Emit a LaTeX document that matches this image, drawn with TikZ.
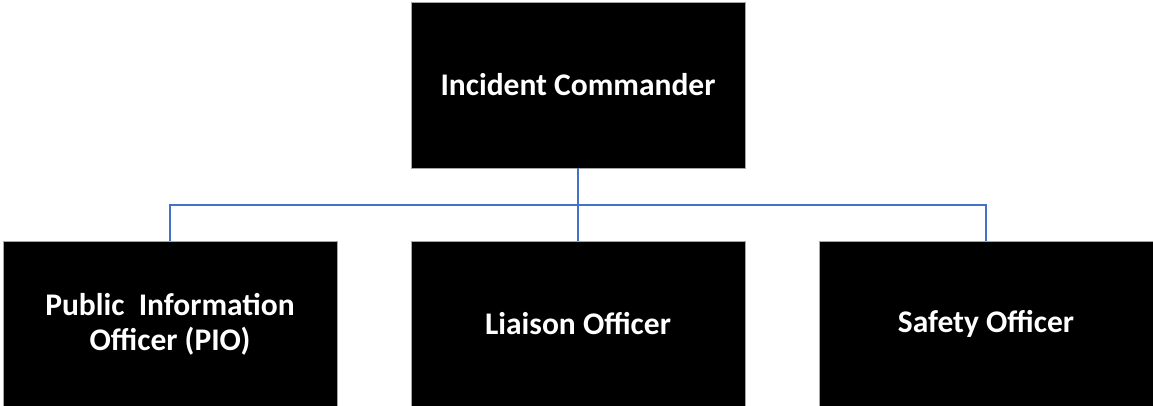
\documentclass[tikz,border=0pt]{standalone}
\usepackage{fontspec}
\setmainfont{Carlito}
\begin{document}
\begin{tikzpicture}[x=1pt,y=-1pt,
  rolebox/.style={rectangle,fill=black,draw=gray!70,line width=0.8pt,
    minimum width=334pt,minimum height=166pt,inner sep=0pt,
    text=white,align=center,font=\fontsize{31.5}{35}\selectfont\bfseries},
  link/.style={draw={rgb,255:red,68;green,114;blue,196},line width=2.6pt}]
  \useasboundingbox (0,0) rectangle (1153,406);
  % chain of command
  \node[rolebox] (ic) at (578,85) {Incident Commander};
  \node[rolebox] (pio) at (170,324) {Public\ \ Information\\Officer (PIO)};
  \node[rolebox] (lo) at (578,324) {Liaison Officer};
  \node[rolebox] (so) at (986,324) {Safety Officer};
  \coordinate (bus) at (578,205);
  % connectors
  \draw[link] (ic.south) -- (lo.north);
  \draw[link] (pio.north) |- (bus) -| (so.north);
\end{tikzpicture}
\end{document}
